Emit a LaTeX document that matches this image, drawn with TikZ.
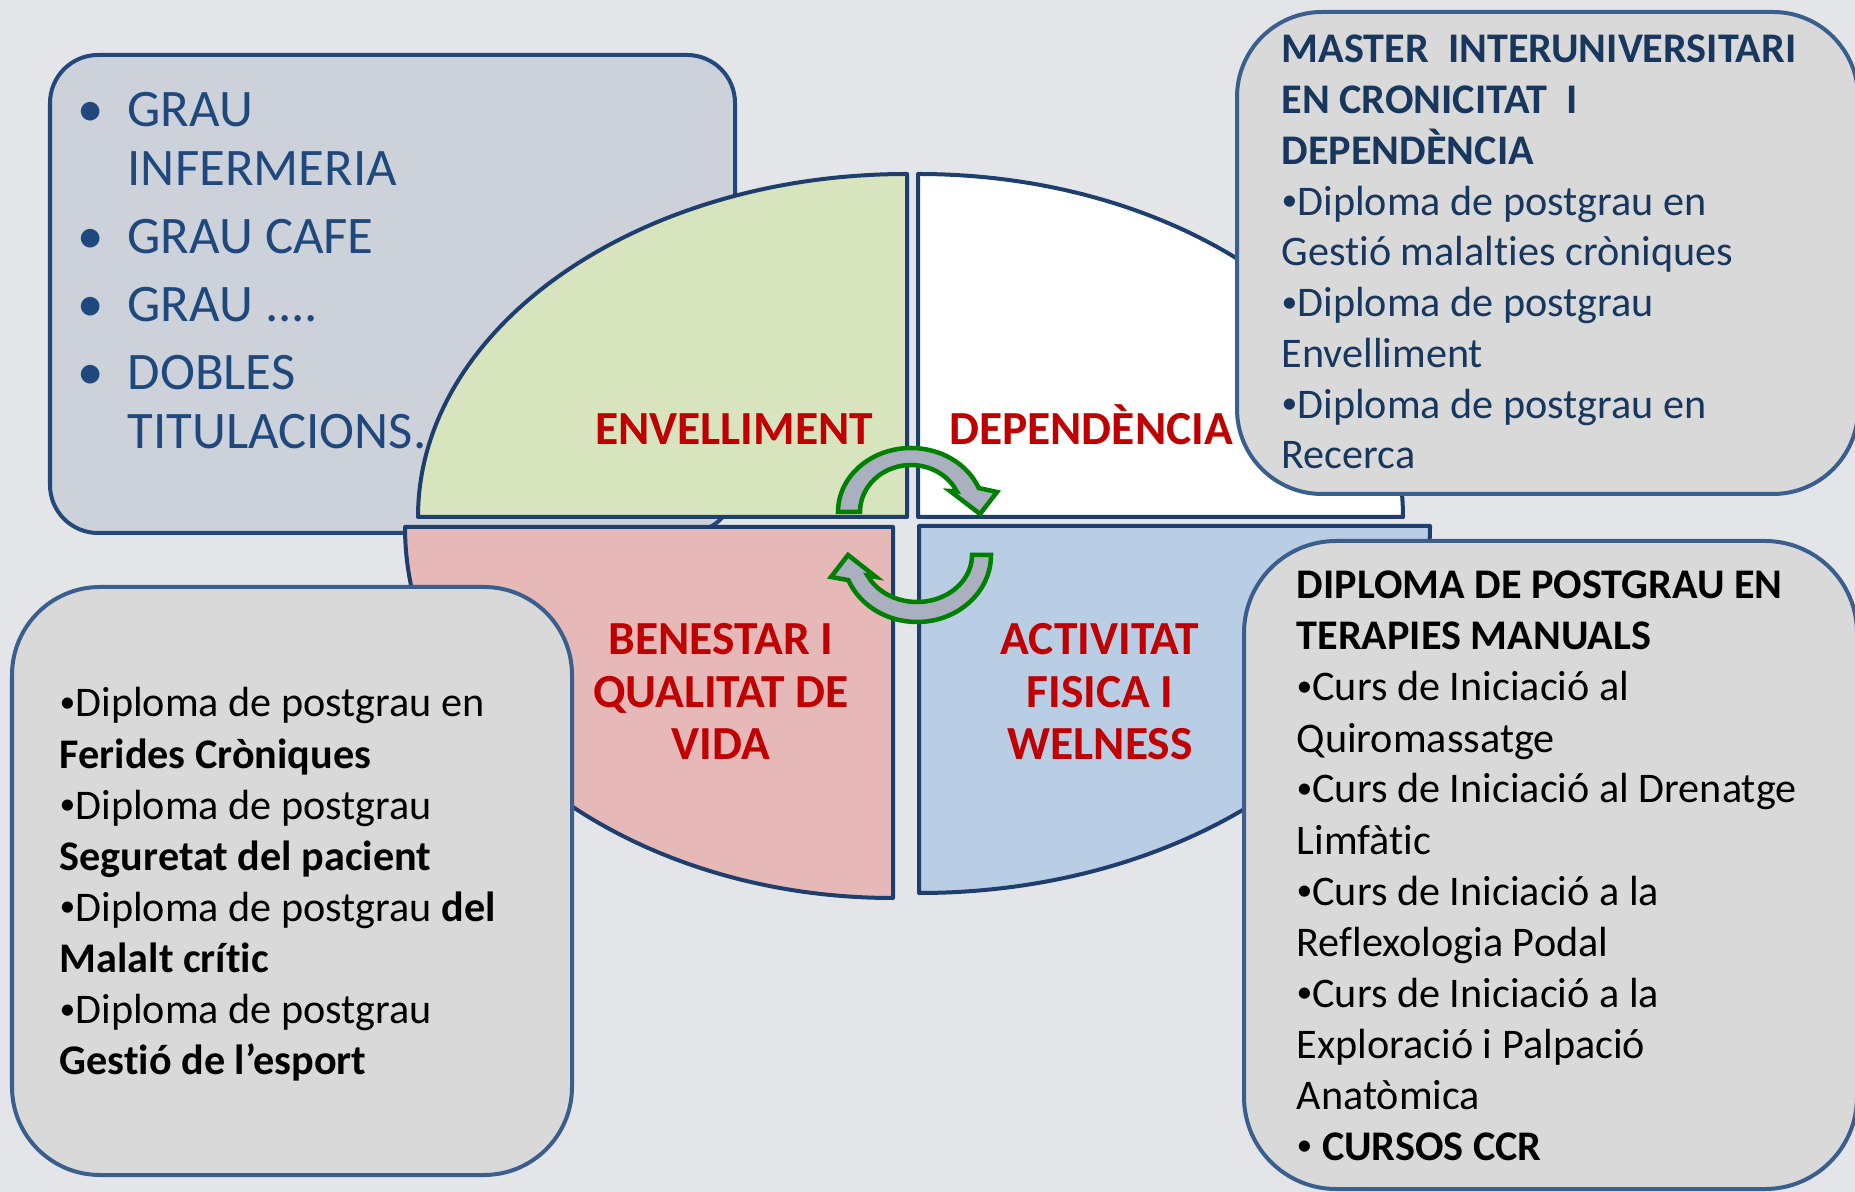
\documentclass[tikz,border=0pt]{standalone}
\usepackage{fontspec}
\setmainfont{Carlito}[Ligatures=TeX, RawFeature=-liga, RawFeature=-clig, RawFeature=-calt, RawFeature=-dlig]
\usepackage{tikz}

\definecolor{bgcol}{RGB}{227,229,232}
\definecolor{graufill}{RGB}{205,209,218}
\definecolor{grauline}{RGB}{35,72,125}
\definecolor{grautext}{RGB}{31,73,125}
\definecolor{mastertext}{RGB}{23,55,94}
\definecolor{quadline}{RGB}{30,62,110}
\definecolor{boxline}{RGB}{58,94,142}
\definecolor{boxgray}{RGB}{217,217,217}
\definecolor{qgreen}{RGB}{215,228,189}
\definecolor{qpink}{RGB}{230,184,183}
\definecolor{qblue}{RGB}{185,205,229}
\definecolor{arrgray}{RGB}{170,176,192}
\definecolor{arrgreen}{RGB}{0,128,0}
\definecolor{labred}{RGB}{192,0,0}

% small bullet of the info boxes
\newcommand{\bul}{{\fontsize{9}{10}\selectfont\raisebox{1.3pt}{•}}}

\tikzset{
  grautxt/.style={anchor=base west, inner sep=0pt, text=grautext, font=\fontsize{15}{18}\selectfont},
  mastertxt/.style={anchor=base west, inner sep=0pt, text=mastertext, font=\fontsize{12}{14}\selectfont},
  boxtxt/.style={anchor=base west, inner sep=0pt, text=black, font=\fontsize{12}{14}\selectfont},
  quadlbl/.style={anchor=base, inner sep=0pt, text=labred, font=\bfseries\fontsize{13.5}{16}\selectfont},
  quad/.style={draw=quadline, line width=0.04cm, line join=round},
  infobox/.style={draw=boxline, fill=boxgray, line width=0.04cm, rounded corners=#1},
  infobox/.default=0.85cm,
  cyc/.style={draw=arrgreen, fill=arrgray, line width=0.045cm, line join=miter}
}

\begin{document}
\begin{tikzpicture}[x=0.01cm, y=-0.01cm]
\useasboundingbox (0,0) rectangle (1855,1192);
\fill[bgcol] (0,0) rectangle (1855,1192);

% graus
\draw[draw=grauline, fill=graufill, line width=0.04cm, rounded corners=0.48cm] (50,55) rectangle (735,533);
\foreach \yy/\txt [count=\k] in {127/GRAU, 186/INFERMERIA, 254/GRAU CAFE, 322/{GRAU ....}, 390/DOBLES, 449/TITULACIONS.}
    \node[grautxt] (grau\k) at (127,\yy) {\txt};
\foreach \yy in {127,254,322,390}
    \node[grautxt, anchor=base] (dot\yy) at (91,\yy) {•};

% quadrants
\draw[quad, fill=qgreen] (907,517) -- (418,517) arc[start angle=180, end angle=270, x radius=489, y radius=343] -- cycle;
\draw[quad, fill=white] (918,517) -- (918,174) arc[start angle=270, end angle=360, x radius=485, y radius=343] -- cycle;
\draw[quad, fill=qpink] (893,527) -- (405,527) arc[start angle=180, end angle=90, x radius=488, y radius=371] -- cycle;
\draw[quad, fill=qblue] (919,526) -- (1430,526) arc[start angle=0, end angle=90, x radius=511, y radius=367] -- cycle;

\node[quadlbl] (envl) at (734,445) {ENVELLIMENT};
\node[quadlbl] (depn) at (1091,445) {DEPENDÈNCIA};
\foreach \yy/\txt [count=\k] in {655/BENESTAR I, 708/QUALITAT DE, 760/VIDA}
    \node[quadlbl] (bene\k) at (721,\yy) {\txt};
\foreach \yy/\txt [count=\k] in {655/ACTIVITAT, 708/FISICA I, 760/WELNESS}
    \node[quadlbl] (activ\k) at (1100,\yy) {\txt};

% cycle arrows
\coordinate (ctop) at (911,512);
\coordinate (cbot) at (917,555);
\draw[cyc] ([shift={(180:73 and 64)}]ctop) arc[start angle=180, end angle=338, x radius=73, y radius=64]
    -- (997,492) -- (980,514) -- (950,491)
    -- ([shift={(334:51 and 47)}]ctop) arc[start angle=334, end angle=180, x radius=51, y radius=47] -- cycle;
\draw[cyc] ([shift={(0:74 and 67)}]cbot) arc[start angle=0, end angle=158, x radius=74, y radius=67]
    -- (831,577) -- (848,555) -- (876,577)
    -- ([shift={(154:55 and 47)}]cbot) arc[start angle=154, end angle=0, x radius=55, y radius=47] -- cycle;

% master
\draw[infobox=0.85cm] (1237,12) rectangle (1858,494);
\foreach \txt [count=\k from 0] in {{\textbf{MASTER\ \ INTERUNIVERSITARI}}, {\textbf{EN CRONICITAT\ \ I}}, {\textbf{DEPENDÈNCIA}},
        \bul Diploma de postgrau en, Gestió malalties cròniques, \bul Diploma de postgrau, Envelliment,
        \bul Diploma de postgrau en, Recerca}
    \node[mastertxt] (mst\k) at (1281,{63+50.75*\k}) {\txt};

% postgraus
\draw[infobox=0.88cm] (12,587) rectangle (572,1175);
\foreach \txt [count=\k from 0] in {\bul Diploma de postgrau en, {\textbf{Ferides Cròniques}}, \bul Diploma de postgrau,
        {\textbf{Seguretat del pacient}}, {\bul Diploma de postgrau \textbf{del}}, {\textbf{Malalt crític}},
        \bul Diploma de postgrau, {\textbf{Gestió de l’esport}}}
    \node[boxtxt] (pg\k) at (59,{717+51.1*\k}) {\txt};

% terapies
\draw[infobox=0.92cm] (1244,541) rectangle (1857,1189);
\foreach \txt [count=\k from 0] in {{\textbf{DIPLOMA DE POSTGRAU EN}}, {\textbf{TERAPIES MANUALS}},
        \bul Curs de Iniciació al, Quiromassatge, \bul Curs de Iniciació al Drenatge, Limfàtic,
        \bul Curs de Iniciació a la, Reflexologia Podal, \bul Curs de Iniciació a la,
        Exploració i Palpació, Anatòmica, {\bul\ \textbf{CURSOS CCR}}}
    \node[boxtxt] (ter\k) at (1296,{599+51*\k}) {\txt};
\end{tikzpicture}
\end{document}
